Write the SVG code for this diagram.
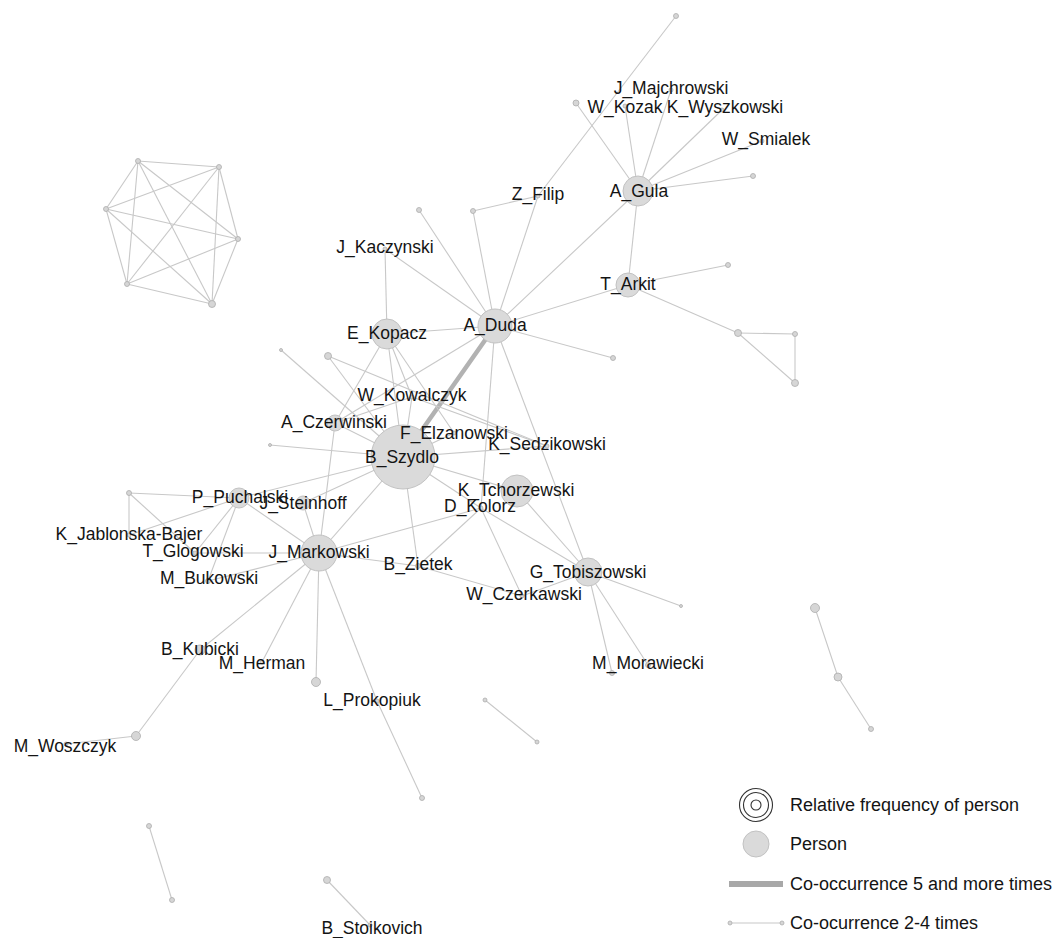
<svg xmlns="http://www.w3.org/2000/svg" width="1061" height="938" viewBox="0 0 1061 938">
<style>
.e{stroke:#c8c8c8;stroke-width:1.1;fill:none}
.thick{stroke:#b2b2b2;stroke-width:4.5;stroke-linecap:round}
.n{fill:#dadada;stroke:#c2c2c2;stroke-width:1}
.s{fill:#d6d6d6;stroke:#adadad;stroke-width:0.8}
.t{font-family:"Liberation Sans",Arial,sans-serif;font-size:17.5px;fill:#141414;text-anchor:middle}
.lg{font-family:"Liberation Sans",Arial,sans-serif;font-size:18px;fill:#141414}
.ring{fill:none;stroke:#333;stroke-width:1.1}
</style>
<rect width="1061" height="938" fill="#ffffff"/>
<g id="connectors">
<line class="thick" x1="495" y1="326" x2="403" y2="457"/>
<g class="e">
<line x1="676" y1="16" x2="538" y2="196"/>
<line x1="538" y1="196" x2="473" y2="211"/>
<line x1="538" y1="196" x2="495" y2="326"/>
<line x1="473" y1="211" x2="495" y2="326"/>
<line x1="419" y1="210" x2="495" y2="326"/>
<line x1="385" y1="249" x2="495" y2="326"/>
<line x1="385" y1="249" x2="387" y2="334"/>
<line x1="387" y1="334" x2="495" y2="326"/>
<line x1="495" y1="326" x2="638" y2="191"/>
<line x1="495" y1="326" x2="628" y2="285"/>
<line x1="495" y1="326" x2="613" y2="358"/>
<line x1="638" y1="191" x2="628" y2="285"/>
<line x1="638" y1="191" x2="576" y2="103"/>
<line x1="638" y1="191" x2="625" y2="106"/>
<line x1="638" y1="191" x2="671" y2="90"/>
<line x1="638" y1="191" x2="722" y2="110"/>
<line x1="638" y1="191" x2="762" y2="141"/>
<line x1="638" y1="191" x2="753" y2="176"/>
<line x1="628" y1="285" x2="728" y2="265"/>
<line x1="628" y1="285" x2="738" y2="333"/>
<line x1="738" y1="333" x2="795" y2="334"/>
<line x1="738" y1="333" x2="795" y2="383"/>
<line x1="795" y1="334" x2="795" y2="383"/>
<line x1="495" y1="326" x2="335" y2="423"/>
<line x1="495" y1="326" x2="481" y2="508"/>
<line x1="495" y1="326" x2="588" y2="572"/>
<line x1="387" y1="334" x2="335" y2="423"/>
<line x1="387" y1="334" x2="403" y2="457"/>
<line x1="387" y1="334" x2="412" y2="397"/>
<line x1="387" y1="334" x2="454" y2="433"/>
<line x1="281" y1="350" x2="403" y2="457"/>
<line x1="328" y1="356" x2="403" y2="457"/>
<line x1="328" y1="356" x2="547" y2="446"/>
<line x1="412" y1="397" x2="403" y2="457"/>
<line x1="412" y1="397" x2="335" y2="423"/>
<line x1="412" y1="397" x2="547" y2="446"/>
<line x1="335" y1="423" x2="403" y2="457"/>
<line x1="335" y1="423" x2="319" y2="553"/>
<line x1="454" y1="433" x2="403" y2="457"/>
<line x1="547" y1="446" x2="403" y2="457"/>
<line x1="270" y1="445" x2="403" y2="457"/>
<line x1="403" y1="457" x2="517" y2="491"/>
<line x1="403" y1="457" x2="481" y2="508"/>
<line x1="403" y1="457" x2="418" y2="566"/>
<line x1="403" y1="457" x2="319" y2="553"/>
<line x1="403" y1="457" x2="303" y2="503"/>
<line x1="403" y1="457" x2="239" y2="498"/>
<line x1="517" y1="491" x2="588" y2="572"/>
<line x1="481" y1="508" x2="588" y2="572"/>
<line x1="481" y1="508" x2="522" y2="596"/>
<line x1="481" y1="508" x2="418" y2="566"/>
<line x1="481" y1="508" x2="319" y2="553"/>
<line x1="418" y1="566" x2="319" y2="553"/>
<line x1="418" y1="566" x2="522" y2="596"/>
<line x1="522" y1="596" x2="588" y2="572"/>
<line x1="588" y1="572" x2="681" y2="606"/>
<line x1="588" y1="572" x2="648" y2="665"/>
<line x1="588" y1="572" x2="612" y2="673"/>
<line x1="303" y1="503" x2="319" y2="553"/>
<line x1="239" y1="498" x2="319" y2="553"/>
<line x1="239" y1="498" x2="129" y2="493"/>
<line x1="239" y1="498" x2="129" y2="535"/>
<line x1="239" y1="498" x2="195" y2="553"/>
<line x1="239" y1="498" x2="208" y2="581"/>
<line x1="129" y1="493" x2="129" y2="535"/>
<line x1="129" y1="493" x2="195" y2="553"/>
<line x1="319" y1="553" x2="195" y2="553"/>
<line x1="319" y1="553" x2="208" y2="581"/>
<line x1="319" y1="553" x2="200" y2="650"/>
<line x1="319" y1="553" x2="262" y2="662"/>
<line x1="319" y1="553" x2="316" y2="682"/>
<line x1="319" y1="553" x2="377" y2="701"/>
<line x1="377" y1="701" x2="422" y2="798"/>
<line x1="200" y1="650" x2="136" y2="736"/>
<line x1="136" y1="736" x2="66" y2="744"/>
<line x1="138" y1="161" x2="219" y2="167"/>
<line x1="138" y1="161" x2="106" y2="209"/>
<line x1="138" y1="161" x2="238" y2="239"/>
<line x1="138" y1="161" x2="127" y2="284"/>
<line x1="138" y1="161" x2="212" y2="304"/>
<line x1="219" y1="167" x2="106" y2="209"/>
<line x1="219" y1="167" x2="238" y2="239"/>
<line x1="219" y1="167" x2="127" y2="284"/>
<line x1="219" y1="167" x2="212" y2="304"/>
<line x1="106" y1="209" x2="238" y2="239"/>
<line x1="106" y1="209" x2="127" y2="284"/>
<line x1="106" y1="209" x2="212" y2="304"/>
<line x1="238" y1="239" x2="127" y2="284"/>
<line x1="238" y1="239" x2="212" y2="304"/>
<line x1="127" y1="284" x2="212" y2="304"/>
<line x1="815" y1="608" x2="838" y2="677"/>
<line x1="838" y1="677" x2="871" y2="729"/>
<line x1="485" y1="700" x2="537" y2="742"/>
<line x1="149" y1="826" x2="172" y2="900"/>
<line x1="327" y1="880" x2="370" y2="925"/>
</g>
</g>
<g id="unlabeled-nodes">
<circle class="s" cx="676" cy="16" r="2.5"/>
<circle class="s" cx="473" cy="211" r="2.5"/>
<circle class="s" cx="419" cy="210" r="2.5"/>
<circle class="s" cx="576" cy="103" r="3"/>
<circle class="s" cx="753" cy="176" r="2.5"/>
<circle class="s" cx="728" cy="265" r="2.5"/>
<circle class="s" cx="738" cy="333" r="3.5"/>
<circle class="s" cx="795" cy="334" r="2.5"/>
<circle class="s" cx="795" cy="383" r="3.5"/>
<circle class="s" cx="613" cy="358" r="2.5"/>
<circle class="s" cx="281" cy="350" r="1.5"/>
<circle class="s" cx="328" cy="356" r="3.5"/>
<circle class="s" cx="270" cy="445" r="1.5"/>
<circle class="s" cx="129" cy="493" r="2.5"/>
<circle class="s" cx="681" cy="606" r="1.5"/>
<circle class="s" cx="612" cy="673" r="2.5"/>
<circle class="s" cx="316" cy="682" r="4.5"/>
<circle class="s" cx="422" cy="798" r="2.5"/>
<circle class="s" cx="136" cy="736" r="4.5"/>
<circle class="s" cx="138" cy="161" r="2.5"/>
<circle class="s" cx="219" cy="167" r="2.5"/>
<circle class="s" cx="106" cy="209" r="2.5"/>
<circle class="s" cx="238" cy="239" r="2.5"/>
<circle class="s" cx="127" cy="284" r="2.5"/>
<circle class="s" cx="212" cy="304" r="3.5"/>
<circle class="s" cx="815" cy="608" r="4.5"/>
<circle class="s" cx="838" cy="677" r="4"/>
<circle class="s" cx="871" cy="729" r="2.5"/>
<circle class="s" cx="485" cy="700" r="2"/>
<circle class="s" cx="537" cy="742" r="2"/>
<circle class="s" cx="149" cy="826" r="2.5"/>
<circle class="s" cx="172" cy="900" r="2.5"/>
<circle class="s" cx="327" cy="880" r="3.5"/>
</g>
<g id="node-B_Szydlo"><circle class="n" cx="403" cy="457" r="32"/><text class="t" x="402" y="463">B_Szydlo</text></g>
<g id="node-A_Duda"><circle class="n" cx="495" cy="326" r="17"/><text class="t" x="495" y="331">A_Duda</text></g>
<g id="node-A_Gula"><circle class="n" cx="638" cy="191" r="15"/><text class="t" x="639" y="197">A_Gula</text></g>
<g id="node-T_Arkit"><circle class="n" cx="628" cy="285" r="12"/><text class="t" x="628" y="290">T_Arkit</text></g>
<g id="node-E_Kopacz"><circle class="n" cx="387" cy="334" r="15"/><text class="t" x="387" y="339">E_Kopacz</text></g>
<g id="node-J_Markowski"><circle class="n" cx="319" cy="553" r="18"/><text class="t" x="319" y="558">J_Markowski</text></g>
<g id="node-K_Tchorzewski"><circle class="n" cx="517" cy="491" r="16"/><text class="t" x="516" y="496">K_Tchorzewski</text></g>
<g id="node-G_Tobiszowski"><circle class="n" cx="588" cy="572" r="14"/><text class="t" x="588" y="578">G_Tobiszowski</text></g>
<g id="node-P_Puchalski"><circle class="n" cx="239" cy="498" r="10"/><text class="t" x="240" y="503">P_Puchalski</text></g>
<g id="node-J_Steinhoff"><circle class="n" cx="303" cy="503" r="7"/><text class="t" x="303" y="509">J_Steinhoff</text></g>
<g id="node-A_Czerwinski"><circle class="n" cx="335" cy="423" r="8"/><text class="t" x="334" y="428">A_Czerwinski</text></g>
<g id="node-B_Kubicki"><circle class="s" cx="200" cy="650" r="5"/><text class="t" x="200" y="655">B_Kubicki</text></g>
<g id="node-J_Majchrowski"><circle class="s" cx="671" cy="90" r="2"/><text class="t" x="671" y="94">J_Majchrowski</text></g>
<g id="node-W_Kozak"><circle class="s" cx="625" cy="106" r="2"/><text class="t" x="625" y="113">W_Kozak</text></g>
<g id="node-K_Wyszkowski"><circle class="s" cx="722" cy="110" r="2"/><text class="t" x="725" y="113">K_Wyszkowski</text></g>
<g id="node-W_Smialek"><circle class="s" cx="762" cy="141" r="2"/><text class="t" x="766" y="145">W_Smialek</text></g>
<g id="node-Z_Filip"><circle class="s" cx="538" cy="196" r="2"/><text class="t" x="538" y="200">Z_Filip</text></g>
<g id="node-J_Kaczynski"><circle class="s" cx="385" cy="249" r="2"/><text class="t" x="385" y="253">J_Kaczynski</text></g>
<g id="node-W_Kowalczyk"><circle class="s" cx="412" cy="397" r="2"/><text class="t" x="412" y="401">W_Kowalczyk</text></g>
<g id="node-F_Elzanowski"><circle class="s" cx="454" cy="433" r="2"/><text class="t" x="454" y="439">F_Elzanowski</text></g>
<g id="node-K_Sedzikowski"><circle class="s" cx="547" cy="446" r="2"/><text class="t" x="547" y="450">K_Sedzikowski</text></g>
<g id="node-D_Kolorz"><circle class="s" cx="481" cy="508" r="2"/><text class="t" x="480" y="512">D_Kolorz</text></g>
<g id="node-K_Jablonska-Bajer"><circle class="s" cx="129" cy="535" r="2"/><text class="t" x="129" y="540">K_Jablonska-Bajer</text></g>
<g id="node-T_Glogowski"><circle class="s" cx="195" cy="553" r="2"/><text class="t" x="193" y="557">T_Glogowski</text></g>
<g id="node-M_Bukowski"><circle class="s" cx="208" cy="581" r="2.5"/><text class="t" x="209" y="584">M_Bukowski</text></g>
<g id="node-B_Zietek"><circle class="s" cx="418" cy="566" r="2.5"/><text class="t" x="418" y="570">B_Zietek</text></g>
<g id="node-W_Czerkawski"><circle class="s" cx="522" cy="596" r="2"/><text class="t" x="524" y="600">W_Czerkawski</text></g>
<g id="node-M_Morawiecki"><circle class="s" cx="648" cy="665" r="2.5"/><text class="t" x="648" y="669">M_Morawiecki</text></g>
<g id="node-M_Herman"><circle class="s" cx="262" cy="662" r="2"/><text class="t" x="262" y="669">M_Herman</text></g>
<g id="node-L_Prokopiuk"><circle class="s" cx="377" cy="701" r="2"/><text class="t" x="372" y="706">L_Prokopiuk</text></g>
<g id="node-M_Woszczyk"><circle class="s" cx="66" cy="744" r="2"/><text class="t" x="65" y="752">M_Woszczyk</text></g>
<g id="node-B_Stoikovich"><circle class="s" cx="370" cy="925" r="2"/><text class="t" x="372" y="934">B_Stoikovich</text></g>
<g id="legend">
<circle class="ring" cx="756" cy="805" r="16.5"/>
<circle class="ring" cx="756" cy="805" r="12.5"/>
<circle class="ring" cx="756" cy="805" r="5"/>
<text class="lg" x="790" y="811">Relative frequency of person</text>
<circle class="n" cx="756" cy="844" r="13"/>
<text class="lg" x="790" y="850">Person</text>
<line x1="729" y1="884" x2="783" y2="884" stroke="#a8a8a8" stroke-width="6"/>
<text class="lg" x="790" y="890">Co-occurrence 5 and more times</text>
<line class="e" x1="730" y1="923" x2="782" y2="923"/>
<circle class="s" cx="730" cy="923" r="2"/>
<circle class="s" cx="782" cy="923" r="2"/>
<text class="lg" x="790" y="929">Co-ocurrence 2-4 times</text>
</g>
</svg>
